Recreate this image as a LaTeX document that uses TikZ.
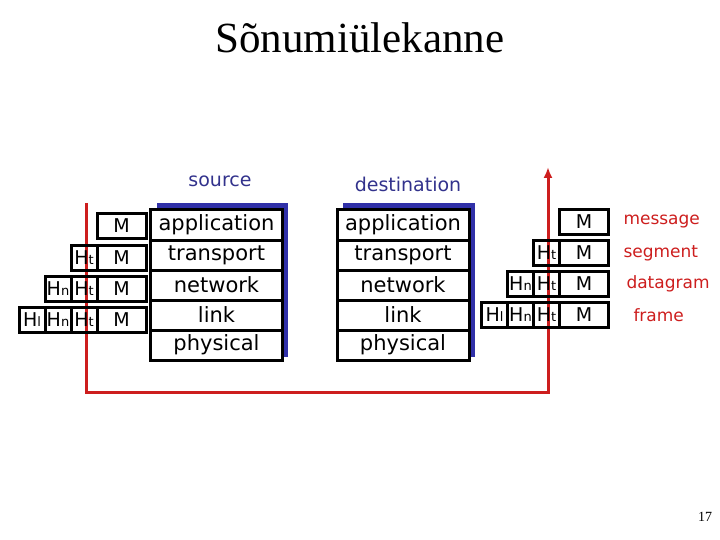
\documentclass[tikz,border=0pt]{standalone}
\usepackage{fontspec}
\setmainfont{Liberation Serif}
\newfontfamily\comicfont{DejaVu Sans}
\usepackage{xcolor}
\usepackage{tikz}
\usetikzlibrary{arrows.meta, positioning, calc, backgrounds}

\definecolor{wirered}{RGB}{205,30,30}
\definecolor{shadowblue}{RGB}{48,48,168}
\definecolor{captionblue}{RGB}{50,50,140}
\newcommand{\hd}[1]{H{\fontsize{13pt}{13pt}\selectfont #1}}

\begin{document}
\begin{tikzpicture}[
			x=1pt, y=1pt,
			every node/.style={font=\comicfont, inner sep=0pt, outer sep=0pt},
			layer/.style={rectangle, draw, line width=3pt, fill=white, minimum width=132pt, minimum height=30pt, font=\comicfont\fontsize{21pt}{21pt}\selectfont},
			msgbox/.style={rectangle, draw, line width=3pt, minimum width=49pt, minimum height=25pt, font=\comicfont\fontsize{19pt}{19pt}\selectfont},
			hdr/.style={msgbox, minimum width=26pt},
			pdu/.style={text=wirered, font=\comicfont\fontsize{17pt}{17pt}\selectfont},
			host/.style={text=captionblue, font=\comicfont\fontsize{19pt}{19pt}\selectfont},
			line/.style={-{Latex[length=11pt, width=9pt]}, line width=3pt, wirered}
			]
			\useasboundingbox (0,0) rectangle (720,-540);
			
			\node[font=\rmfamily\fontsize{43pt}{43pt}\selectfont] (title) at (360,-38) {Sõnumiülekanne};
			\node[font=\rmfamily\fontsize{14pt}{14pt}\selectfont] (page) at (705,-517) {17};
			
			% path through the network
			\coordinate (txstart) at (86,-203);
			\coordinate (linkbend) at (548,-392);
			\coordinate (rxend) at (548,-167);
			\draw[line] (txstart) |- (linkbend) -- (rxend);
			
			% source host
			\node[host] (src) at (220,-181) {source};
			\node[layer] (sapp) at (216.5,-225) {application};
			\node[layer, below=0pt of sapp] (strans) {transport};
			\node[layer, below=0pt of strans] (snet) {network};
			\node[layer, below=0pt of snet] (slink) {link};
			\node[layer, below=0pt of slink] (sphys) {physical};
			
			% destination host
			\node[host] (dst) at (408,-184) {destination};
			\node[layer] (dapp) at (403,-225) {application};
			\node[layer, below=0pt of dapp] (dtrans) {transport};
			\node[layer, below=0pt of dtrans] (dnet) {network};
			\node[layer, below=0pt of dnet] (dlink) {link};
			\node[layer, below=0pt of dlink] (dphys) {physical};
			
			\begin{scope}[on background layer]
				\fill[shadowblue] ($(sapp.north west)+(6,7)$) rectangle ($(sphys.south east)+(5,3)$);
				\fill[shadowblue] ($(dapp.north west)+(6,7)$) rectangle ($(dphys.south east)+(6,3)$);
			\end{scope}
			
			% encapsulation at the sender
			\node[msgbox] (lm1) at (121.5,-226) {M};
			\node[msgbox, below=7pt of lm1] (lm2) {M};
			\node[msgbox, below=6pt of lm2] (lm3) {M};
			\node[msgbox, below=6pt of lm3] (lm4) {M};
			\node[hdr, left=0pt of lm2] (lt2) {\hd{t}};
			\node[hdr, left=0pt of lm3] (lt3) {\hd{t}};
			\node[hdr, left=0pt of lt3] (ln3) {\hd{n}};
			\node[hdr, left=0pt of lm4] (lt4) {\hd{t}};
			\node[hdr, left=0pt of lt4] (ln4) {\hd{n}};
			\node[hdr, left=0pt of ln4] (ll4) {\hd{l}};
			
			% decapsulation at the receiver
			\node[msgbox] (rm1) at (584,-222) {M};
			\node[msgbox, below=6pt of rm1] (rm2) {M};
			\node[msgbox, below=6pt of rm2] (rm3) {M};
			\node[msgbox, below=6pt of rm3] (rm4) {M};
			\node[hdr, left=0pt of rm2] (rt2) {\hd{t}};
			\node[hdr, left=0pt of rm3] (rt3) {\hd{t}};
			\node[hdr, left=0pt of rt3] (rn3) {\hd{n}};
			\node[hdr, left=0pt of rm4] (rt4) {\hd{t}};
			\node[hdr, left=0pt of rt4] (rn4) {\hd{n}};
			\node[hdr, left=0pt of rn4] (rl4) {\hd{l}};
			
			\node[pdu, right=15pt of rm1] (message) {message};
			\node[pdu, right=15pt of rm2] (segment) {segment};
			\node[pdu, right=18pt of rm3] (datagram) {datagram};
			\node[pdu, right=25pt of rm4] (frame) {frame};
		\end{tikzpicture}
\end{document}
